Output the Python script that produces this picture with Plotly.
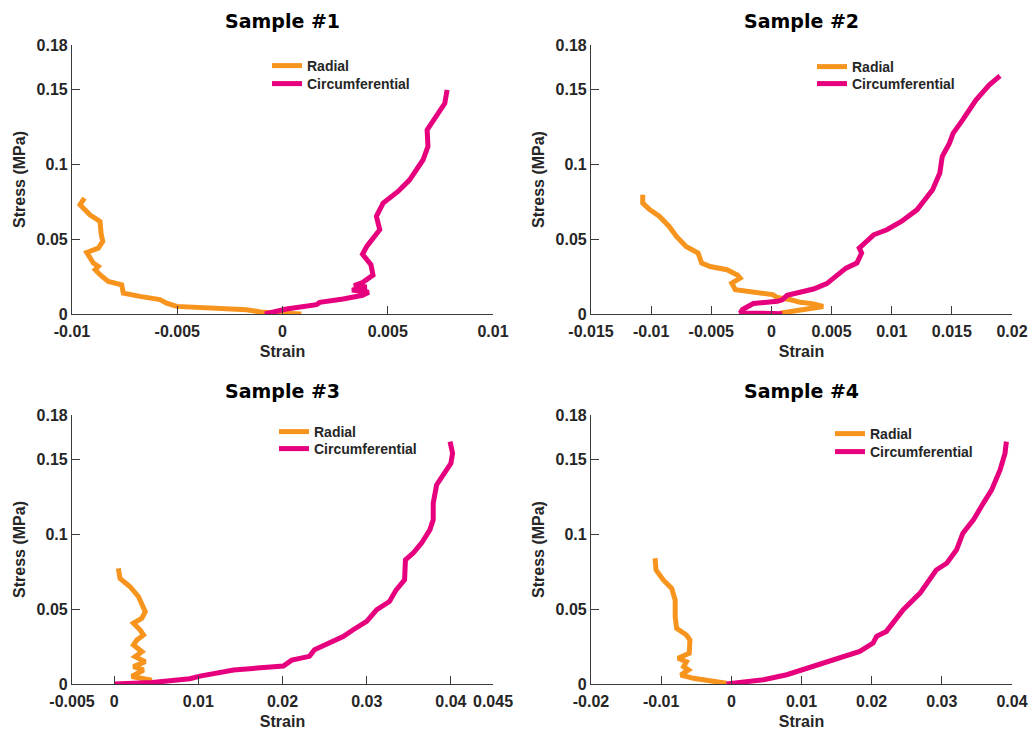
import plotly.graph_objects as go

# ---------------- data ----------------
s1_radial_strain = [0.0009, 0.0000, -0.00092, -0.00171, -0.00313, -0.00503, -0.00551, -0.00582, -0.00677,
                    -0.00756, -0.00764, -0.00828, -0.00867, -0.0089, -0.00875, -0.00899, -0.0093, -0.00875,
                    -0.00854, -0.00862, -0.00867, -0.00915, -0.00962, -0.00941]
s1_radial_stress = [0.0, 0.0002, 0.0011, 0.0029, 0.0040, 0.0051, 0.0073, 0.0096, 0.0118, 0.0140, 0.0196,
                    0.0218, 0.0263, 0.0296, 0.0318, 0.0341, 0.0412, 0.0441, 0.0486, 0.0541, 0.0620, 0.0664,
                    0.0731, 0.0776]
s1_circ_strain = [-0.00084, -0.00028, 0.00019, 0.00161, 0.00177, 0.00288, 0.0038, 0.0041, 0.0033, 0.0040,
                  0.0034, 0.0038, 0.0043, 0.0042, 0.0038, 0.0040, 0.00462, 0.00446, 0.00478, 0.00549, 0.00604,
                  0.00668, 0.00691, 0.00687, 0.00731, 0.00771, 0.00782]
s1_circ_stress = [0.0, 0.0018, 0.0033, 0.0062, 0.0078, 0.0100, 0.0125, 0.0145, 0.0160, 0.0180, 0.0190, 0.0210,
                  0.0260, 0.0330, 0.0400, 0.0452, 0.0564, 0.0653, 0.0742, 0.0820, 0.0898, 0.1032, 0.1121,
                  0.1232, 0.1321, 0.1410, 0.1500]

s2_radial_strain = [0.0007, 0.0030, 0.0043, 0.0035, 0.0024, 0.0016, 0.0005, 0.0001, -0.0007, -0.0015, -0.0030,
                    -0.0033, -0.0026, -0.0028, -0.0037, -0.0051, -0.0058, -0.0061, -0.0071, -0.0079, -0.0085,
                    -0.0093, -0.0101, -0.0107, -0.0107]
s2_radial_stress = [0.0005, 0.0030, 0.0050, 0.0068, 0.0078, 0.0095, 0.0110, 0.0130, 0.0140, 0.0145, 0.0163,
                    0.0207, 0.0240, 0.0260, 0.0296, 0.0318, 0.0341, 0.0408, 0.0452, 0.0519, 0.0586, 0.0653,
                    0.0697, 0.0742, 0.0798]
s2_circ_strain = [0.0009, -0.0010, -0.0026, -0.0024, -0.0019, -0.0015, 0.0005, 0.0009, 0.0013, 0.0024, 0.0035,
                  0.0046, 0.0054, 0.0062, 0.0071, 0.0075, 0.0073, 0.0085, 0.0096, 0.0108, 0.0121, 0.0129, 0.0134,
                  0.0140, 0.0142, 0.0148, 0.0151, 0.0159, 0.0170, 0.0181, 0.0190]
s2_circ_stress = [0.0002, 0.0004, 0.0007, 0.0030, 0.0050, 0.0070, 0.0085, 0.0095, 0.0125, 0.0148, 0.0167,
                  0.0203, 0.0252, 0.0307, 0.0341, 0.0408, 0.0441, 0.0530, 0.0564, 0.0619, 0.0697, 0.0775,
                  0.0831, 0.0943, 0.1054, 0.1143, 0.1209, 0.1299, 0.1432, 0.1532, 0.1593]

s3_radial_strain = [0.0045, 0.0021, 0.0035, 0.0023, 0.0037, 0.0025, 0.0033, 0.0023, 0.0027, 0.0035, 0.0031,
                    0.0023, 0.0033, 0.0037, 0.0029, 0.0019, 0.0007, 0.0005]
s3_radial_stress = [0.0025, 0.0050, 0.0094, 0.0116, 0.0149, 0.0183, 0.0216, 0.0261, 0.0294, 0.0328, 0.0361,
                    0.0406, 0.0440, 0.0484, 0.0584, 0.0651, 0.0707, 0.0774]
s3_circ_strain = [0.0, 0.0045, 0.0090, 0.0102, 0.0142, 0.0201, 0.0211, 0.0232, 0.0238, 0.0256, 0.0272,
                  0.0284, 0.0300, 0.0312, 0.0327, 0.0335, 0.0345, 0.0346, 0.0355, 0.0365, 0.0375, 0.0379,
                  0.0379, 0.0383, 0.0395, 0.0400, 0.0402, 0.0399]
s3_circ_stress = [0.0, 0.0010, 0.0035, 0.0053, 0.0094, 0.0120, 0.0160, 0.0185, 0.0229, 0.0274, 0.0318,
                  0.0363, 0.0419, 0.0497, 0.0552, 0.0630, 0.0697, 0.0831, 0.0875, 0.0942, 0.1031, 0.1098,
                  0.1210, 0.1332, 0.1432, 0.1477, 0.1544, 0.1622]

s4_radial_strain = [-0.0007, -0.0035, -0.0054, -0.0072, -0.0061, -0.0068, -0.0064, -0.0076, -0.0060, -0.0059,
                    -0.0064, -0.0078, -0.0080, -0.0080, -0.0085, -0.0097, -0.01073, -0.01087]
s4_radial_stress = [0.0005, 0.0022, 0.0038, 0.0060, 0.0094, 0.0116, 0.0149, 0.0172, 0.0205, 0.0294, 0.0328,
                    0.0372, 0.0450, 0.0562, 0.0640, 0.0696, 0.0763, 0.0841]
s4_circ_strain = [-0.0007, 0.0017, 0.0046, 0.0079, 0.0103, 0.0136, 0.0160, 0.0183, 0.0202, 0.0207, 0.0221,
                  0.0245, 0.0269, 0.0283, 0.0292, 0.0307, 0.0321, 0.0330, 0.0345, 0.0359, 0.0371, 0.0383,
                  0.0390, 0.0392]
s4_circ_stress = [0.0, 0.0013, 0.0029, 0.0062, 0.0096, 0.0151, 0.0185, 0.0218, 0.0274, 0.0319, 0.0352, 0.0497,
                  0.0608, 0.0697, 0.0763, 0.0808, 0.0898, 0.1009, 0.1098, 0.1209, 0.1299, 0.1432, 0.1543,
                  0.1622]

titles = ["Sample #1", "Sample #2", "Sample #3", "Sample #4"]
x_ranges = [[-0.01, 0.01], [-0.015, 0.02], [-0.005, 0.045], [-0.02, 0.04]]
x_ticks = [
    [-0.01, -0.005, 0, 0.005, 0.01],
    [-0.015, -0.01, -0.005, 0, 0.005, 0.01, 0.015, 0.02],
    [-0.005, 0, 0.01, 0.02, 0.03, 0.04, 0.045],
    [-0.02, -0.01, 0, 0.01, 0.02, 0.03, 0.04],
]
x_ticktext = [
    ["-0.01", "-0.005", "0", "0.005", "0.01"],
    ["-0.015", "-0.01", "-0.005", "0", "0.005", "0.01", "0.015", "0.02"],
    ["-0.005", "0", "0.01", "0.02", "0.03", "0.04", "0.045"],
    ["-0.02", "-0.01", "0", "0.01", "0.02", "0.03", "0.04"],
]
y_ticks = [0, 0.05, 0.1, 0.15, 0.18]
y_ticktext = ["0", "0.05", "0.1", "0.15", "0.18"]
series_names = ["Radial", "Circumferential"]

radial = [(s1_radial_strain, s1_radial_stress), (s2_radial_strain, s2_radial_stress),
          (s3_radial_strain, s3_radial_stress), (s4_radial_strain, s4_radial_stress)]
circ = [(s1_circ_strain, s1_circ_stress), (s2_circ_strain, s2_circ_stress),
        (s3_circ_strain, s3_circ_stress), (s4_circ_strain, s4_circ_stress)]

# ---------------- styling / layout ----------------
W, H = 1029, 731
ORANGE = "#F7941D"
PINK = "#E6007E"
FONT = "Liberation Sans, Arial, sans-serif"
TFONT = "DejaVu Sans, Liberation Sans, sans-serif"
TXT = "#262626"
AX = "#3a3a3a"

# plot boxes in pixels: (left, right, top, bottom)
boxes = [(72, 493, 45, 314), (591, 1012, 45, 314), (72, 493, 415, 684), (591, 1012, 415, 684)]
# legend rows: line start x, row centre y (radial, circumferential)
legend_rows = [(272, 66, 84), (817, 67, 84), (279, 432, 449), (835, 434, 452)]
LEG_DX = 5      # legend box left -> start of sample line
LEG_DY = 16     # legend box top -> centre of row

fig = go.Figure()
layout = dict(
    width=W, height=H, margin=dict(l=0, r=0, t=0, b=0, autoexpand=False),
    paper_bgcolor="white", plot_bgcolor="white", showlegend=True,
    font=dict(family=FONT, color=TXT), annotations=[],
)

leg_id = 0
for i in range(4):
    k = "" if i == 0 else str(i + 1)
    l, r, t, b = boxes[i]
    lx, ly1, ly2 = legend_rows[i]
    for j, (data, color) in enumerate([(radial[i], ORANGE), (circ[i], PINK)]):
        leg_id += 1
        lg = "legend" if leg_id == 1 else f"legend{leg_id}"
        fig.add_trace(go.Scatter(x=data[0], y=data[1], mode="lines", name=series_names[j],
                                 line=dict(color=color, width=5), xaxis="x" + k, yaxis="y" + k,
                                 legend=lg, showlegend=True))
        ly = ly1 if j == 0 else ly2
        layout[lg] = dict(
            x=(lx - LEG_DX) / W, y=1 - (ly - LEG_DY) / H, xanchor="left", yanchor="top",
            bgcolor="rgba(0,0,0,0)", font=dict(size=14, family=FONT, color=TXT, weight="bold"),
            itemwidth=30, borderwidth=0, visible=True,
        )
    layout["xaxis" + k] = dict(
        domain=[l / W, r / W], anchor="y" + k, range=x_ranges[i], tickmode="array",
        tickvals=x_ticks[i], ticktext=x_ticktext[i], ticks="inside", ticklen=8, tickcolor=AX,
        tickwidth=1.2, showline=True, linecolor=AX, linewidth=1.2, mirror=False, showgrid=False,
        zeroline=False, automargin=False, tickfont=dict(size=16, family=FONT, color=TXT, weight="bold"),
        title=dict(text="<b>Strain</b>", font=dict(size=16, family=FONT, color=TXT), standoff=6),
        ticklabelstandoff=3,
    )
    layout["yaxis" + k] = dict(
        domain=[1 - b / H, 1 - t / H], anchor="x" + k, range=[0, 0.18], tickmode="array",
        tickvals=y_ticks, ticktext=y_ticktext, ticks="inside", ticklen=8, tickcolor=AX, tickwidth=1.2,
        showline=True, linecolor=AX, linewidth=1.2, mirror=False, showgrid=False, zeroline=False,
        automargin=False, tickfont=dict(size=16, family=FONT, color=TXT, weight="bold"),
        title=dict(text="<b>Stress (MPa)</b>", font=dict(size=16, family=FONT, color=TXT), standoff=6),
    )
    layout["annotations"].append(dict(
        text="<b>" + titles[i] + "</b>", x=(l + r) / 2 / W, y=1 - (t - 24) / H, xref="paper",
        yref="paper", xanchor="center", yanchor="middle", showarrow=False,
        font=dict(size=19, family=TFONT, color="black"),
    ))

fig.update_layout(**layout)
fig.write_html("out.html")
